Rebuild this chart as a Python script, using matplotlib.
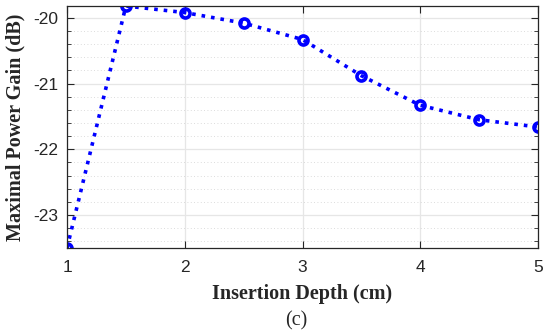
import numpy as np
import matplotlib.pyplot as plt
from matplotlib.ticker import MultipleLocator

plt.rcParams['axes.unicode_minus'] = False

# donnees
depth = [1, 1.5, 2, 2.5, 3, 3.5, 4, 4.5, 5]
gain = [-23.50, -19.82, -19.92, -20.08, -20.33, -20.88, -21.33, -21.55, -21.66]

fig = plt.figure(figsize=(5.43, 3.33), dpi=100)
ax = fig.add_axes([0.1234, 0.2553, 0.8674, 0.7267])

ax.plot(depth, gain, ls=':', lw=2.6, color='#0000ff', marker='o',
        markersize=6.5, markerfacecolor='none', markeredgewidth=2.6)

ax.set_xlim(1, 5)
ax.set_ylim(-23.5, -19.82)
ax.xaxis.set_major_locator(MultipleLocator(1))
ax.yaxis.set_major_locator(MultipleLocator(1))
ax.yaxis.set_minor_locator(MultipleLocator(0.2))

ax.grid(which='major', color='#e6e6e6', lw=0.9)
ax.grid(which='minor', axis='y', color='#d0d0d0', lw=0.6, ls=(0, (1, 3)))
ax.set_axisbelow(True)

ax.tick_params(which='both', direction='in', top=True, right=True,
               labelsize=12.5, colors='#262626', labelcolor='#262626')
ax.tick_params(which='major', length=5, width=0.8, pad=6)
ax.tick_params(which='minor', length=3, width=0.6)
ax.tick_params(axis='x', which='major', pad=9)
ax.tick_params(axis='x', which='minor', top=False, bottom=False)
for lab in ax.get_xticklabels() + ax.get_yticklabels():
    lab.set_family('Liberation Sans')
for s in ax.spines.values():
    s.set_color('#262626')
    s.set_linewidth(0.9)

ax.set_xlabel("Insertion Depth (cm)", family='Liberation Serif', fontweight='bold',
              fontsize=14.5, color='#262626', labelpad=6)
ax.set_ylabel("Maximal Power Gain (dB)", family='Liberation Serif', fontweight='bold',
              fontsize=14.5, color='#262626', labelpad=6)
fig.text(0.5465, 0.036, "(c)", family='Liberation Serif', fontsize=14.5,
         ha='center', va='center', color='#262626')

fig.savefig("out.png", dpi=100)
